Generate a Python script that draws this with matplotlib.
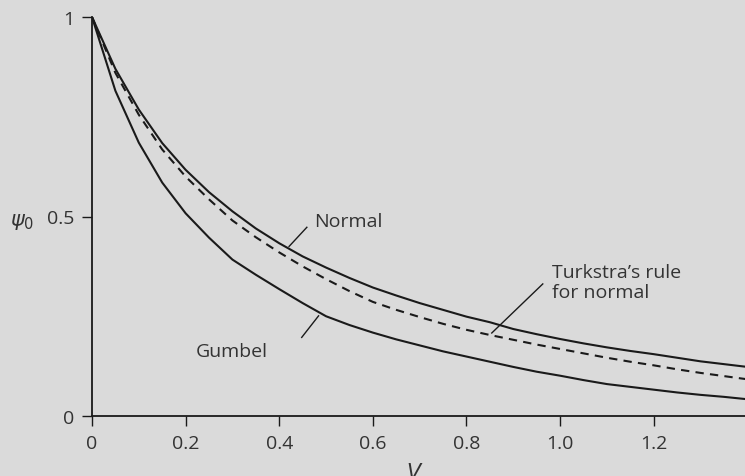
import numpy as np
import matplotlib.pyplot as plt

plt.rcParams['font.family'] = ['Open Sans', 'DejaVu Sans']
plt.rcParams['mathtext.fontset'] = 'dejavusans'

# V values (0.05 steps) and the three psi_0 curves
v = [0.00, 0.05, 0.10, 0.15, 0.20, 0.25, 0.30, 0.35, 0.40, 0.45,
     0.50, 0.55, 0.60, 0.65, 0.70, 0.75, 0.80, 0.85, 0.90, 0.95,
     1.00, 1.05, 1.10, 1.15, 1.20, 1.25, 1.30, 1.35, 1.40]
normal = [1.000, 0.870, 0.768, 0.684, 0.617, 0.561, 0.513, 0.470, 0.433, 0.400,
          0.372, 0.346, 0.322, 0.302, 0.283, 0.266, 0.249, 0.235, 0.218, 0.205,
          0.193, 0.182, 0.172, 0.163, 0.155, 0.146, 0.137, 0.130, 0.123]
turkstra = [1.000, 0.860, 0.755, 0.668, 0.600, 0.543, 0.490, 0.448, 0.410, 0.375,
            0.343, 0.313, 0.286, 0.266, 0.248, 0.231, 0.216, 0.203, 0.191, 0.179,
            0.168, 0.157, 0.146, 0.136, 0.127, 0.117, 0.108, 0.100, 0.092]
gumbel = [1.000, 0.815, 0.685, 0.585, 0.508, 0.447, 0.392, 0.354, 0.318, 0.283,
          0.250, 0.228, 0.209, 0.192, 0.177, 0.162, 0.149, 0.136, 0.123, 0.111,
          0.101, 0.090, 0.080, 0.073, 0.066, 0.059, 0.053, 0.048, 0.042]

xticks = [0, 0.2, 0.4, 0.6, 0.8, 1.0, 1.2]
xticklabels = ['0', '0.2', '0.4', '0.6', '0.8', '1.0', '1.2']
yticks = [0, 0.5, 1]
yticklabels = ['0', '0.5', '1']

bg = '#dadada'
ink = '#1a1a1a'
txt = '#333333'

fig = plt.figure(figsize=(7.45, 4.77), dpi=100, facecolor=bg)
ax = fig.add_axes([92 / 745, 60 / 477, 1 - 92 / 745, 399 / 477])
ax.set_facecolor(bg)

ax.plot(v, normal, color=ink, lw=1.5)
ax.plot(v, turkstra, color=ink, lw=1.5, ls=(0, (4, 3)))
ax.plot(v, gumbel, color=ink, lw=1.5)

ax.set_xlim(0, 1.395)
ax.set_ylim(0, 1)
ax.set_xticks(xticks)
ax.set_xticklabels(xticklabels)
ax.set_yticks(yticks)
ax.set_yticklabels(yticklabels)

for s in ['top', 'right']:
    ax.spines[s].set_visible(False)
for s in ['left', 'bottom']:
    ax.spines[s].set_linewidth(1.3)
    ax.spines[s].set_color(ink)
ax.tick_params(direction='out', length=7, width=1.0, color=ink,
               labelsize=14, labelcolor=txt, pad=6)

# labels with leader lines
ax.plot([0.459, 0.421], [0.473, 0.425], color=ink, lw=1.0)
ax.text(0.474, 0.489, 'Normal', fontsize=14, color=txt, ha='left', va='center')

ax.plot([0.484, 0.448], [0.251, 0.197], color=ink, lw=1.0)
ax.text(0.376, 0.163, 'Gumbel', fontsize=14, color=txt, ha='right', va='center')

ax.plot([0.963, 0.854], [0.331, 0.208], color=ink, lw=1.0)
ax.text(0.982, 0.335, 'Turkstra\u2019s rule\nfor normal', fontsize=14, color=txt,
        ha='left', va='center', linespacing=1.15)

ax.text(-0.15, 0.49, r'$\psi_0$', fontsize=15, color=txt, ha='center', va='center')
ax.text(0.69, -0.115, r'$V$', fontsize=15, color=txt, ha='center', va='top',
        clip_on=False)

fig.savefig('out.png', dpi=100, facecolor=bg)
